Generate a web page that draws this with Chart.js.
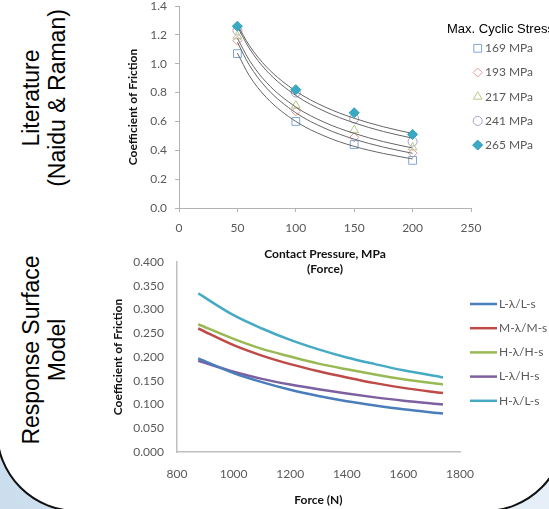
<!DOCTYPE html>
<html lang="en">
<head>
<meta charset="UTF-8">
<title>Coefficient of Friction</title>
<script src="https://cdn.jsdelivr.net/npm/chart.js"></script>
<style>
  html, body { margin: 0; padding: 0; }
  body {
    width: 549px; height: 509px; overflow: hidden; position: relative;
    background: linear-gradient(to right, #cbdeee 0%, #dde9f5 60%, #e6eff8 100%);
    font-family: "Liberation Sans", Arial, sans-serif;
  }
  #frame {
    position: absolute; left: -4px; top: -200px; width: 570px; height: 712px;
    box-sizing: border-box; background: #fff;
    border: 2.5px solid #111; border-radius: 81px;
  }
  canvas { position: absolute; }
  .side { position: absolute; width: 0; height: 0; }
  .side div {
    position: absolute; white-space: nowrap; text-align: center;
    font-size: 23px; line-height: 26px; color: #000;
    transform: translate(-50%, -50%) rotate(-90deg);
  }
</style>
</head>
<body>
<div id="frame"></div>
<div class="side" style="left:44px; top:98px;"><div>Literature<br>(Naidu &amp; Raman)</div></div>
<div class="side" style="left:44px; top:350px;"><div>Response Surface<br>Model</div></div>
<canvas id="litChart" width="500" height="300" style="left:100px; top:-20px;"></canvas>
<canvas id="rsmChart" width="500" height="269" style="left:100px; top:240px;"></canvas>

<script>
// --- top chart: literature data (Naidu & Raman) ---
var pressure = [50, 100, 150, 200];
var stressLabels = ['169 MPa', '193 MPa', '217 MPa', '241 MPa', '265 MPa'];
var cof169 = [1.07, 0.60, 0.44, 0.33];
var cof193 = [1.16, 0.67, 0.49, 0.38];
var cof217 = [1.19, 0.71, 0.54, 0.42];
var cof241 = [1.23, 0.80, 0.62, 0.46];
var cof265 = [1.26, 0.82, 0.66, 0.51];

// trend lines
var trendPressure = [50, 60, 75, 100, 125, 150, 175, 200];
var trend169 = [1.074, 0.92, 0.764, 0.60, 0.497, 0.427, 0.378, 0.34];
var trend193 = [1.149, 0.993, 0.831, 0.66, 0.552, 0.477, 0.422, 0.379];
var trend217 = [1.177, 1.027, 0.869, 0.70, 0.592, 0.517, 0.460, 0.416];
var trend241 = [1.258, 1.109, 0.951, 0.78, 0.669, 0.590, 0.530, 0.484];
var trend265 = [1.27, 1.129, 0.977, 0.81, 0.70, 0.622, 0.563, 0.516];

// --- bottom chart: response surface model ---
var force = [875, 1000, 1100, 1200, 1300, 1400, 1500, 1600, 1740];
var modelLabels = ['L-\u03bb/L-s', 'M-\u03bb/M-s', 'H-\u03bb/H-s', 'L-\u03bb/H-s', 'H-\u03bb/L-s'];
var lowLowS  = [0.197, 0.166, 0.147, 0.131, 0.118, 0.107, 0.098, 0.090, 0.081];
var midMidS  = [0.260, 0.225, 0.203, 0.185, 0.170, 0.157, 0.145, 0.135, 0.124];
var highHighS = [0.269, 0.238, 0.217, 0.201, 0.186, 0.174, 0.163, 0.153, 0.142];
var lowHighS = [0.192, 0.169, 0.154, 0.142, 0.132, 0.123, 0.115, 0.108, 0.100];
var highLowS = [0.334, 0.288, 0.260, 0.236, 0.216, 0.199, 0.185, 0.172, 0.157];

Chart.defaults.font.family = 'Lato';
Chart.defaults.font.size = 12;
Chart.defaults.color = '#595959';

function pts(xs, ys) {
    return xs.map(function (x, i) { return { x: x, y: ys[i] }; });
}

// legend drawn at fixed spot beside the plot
var sideLegend = {
    id: 'sideLegend',
    afterDraw: function (chart, args, opts) {
        var ctx = chart.ctx;
        ctx.save();
        if (opts.title) {
            ctx.font = '13px "Liberation Sans", Arial';
            ctx.fillStyle = '#000';
            ctx.textBaseline = 'alphabetic';
            ctx.textAlign = 'left';
            ctx.fillText(opts.title, opts.titleX, opts.titleY);
        }
        ctx.font = '12px Lato';
        ctx.textBaseline = 'middle';
        var row = 0;
        chart.data.datasets.forEach(function (ds) {
            if (!ds.label) return;
            var y = opts.y + row * opts.gap;
            ctx.strokeStyle = ds.borderColor;
            ctx.fillStyle = ds.backgroundColor;
            if (opts.kind === 'marker') {
                ctx.lineWidth = 1;
                Chart.helpers.drawPoint(ctx, {
                    pointStyle: ds.pointStyle, radius: ds.pointRadius, rotation: 0, borderWidth: 1
                }, opts.x, y);
            } else {
                ctx.lineWidth = ds.borderWidth;
                ctx.beginPath();
                ctx.moveTo(opts.x, y);
                ctx.lineTo(opts.x + opts.lineLen, y);
                ctx.stroke();
            }
            ctx.fillStyle = '#595959';
            ctx.fillText(ds.label, opts.textX, y);
            row++;
        });
        ctx.restore();
    }
};

// top chart
var markerStyles = [
    { style: 'rect', r: 5.5, border: '#7ea6d8', fill: 'rgba(0,0,0,0)' },
    { style: 'rectRot', r: 4.5, border: '#e39a98', fill: 'rgba(0,0,0,0)' },
    { style: 'triangle', r: 5, border: '#b3cb86', fill: 'rgba(0,0,0,0)' },
    { style: 'circle', r: 4.5, border: '#ac9bc5', fill: 'rgba(0,0,0,0)' },
    { style: 'rectRot', r: 5, border: '#2f9fbb', fill: '#3aaac4' }
];
var cofSeries = [cof169, cof193, cof217, cof241, cof265];
var trendSeries = [trend169, trend193, trend217, trend241, trend265];

var litSets = cofSeries.map(function (s, i) {
    var m = markerStyles[i];
    return {
        label: stressLabels[i],
        data: pts(pressure, s),
        showLine: false,
        pointStyle: m.style,
        pointRadius: m.r,
        pointBorderWidth: 1,
        borderColor: m.border,
        backgroundColor: m.fill,
        order: i === 4 ? 0 : 2   // filled diamonds on top
    };
});
trendSeries.forEach(function (t) {
    litSets.push({
        data: pts(trendPressure, t),
        borderColor: '#666666',
        borderWidth: 1,
        pointRadius: 0,
        cubicInterpolationMode: 'monotone',
        order: 1
    });
});

new Chart(document.getElementById('litChart').getContext('2d'), {
    type: 'line',
    data: { datasets: litSets },
    options: {
        responsive: false,
        animation: false,
        layout: { padding: { left: 20, top: 26, right: 129, bottom: 0 } },
        plugins: {
            legend: { display: false },
            tooltip: { enabled: false },
            sideLegend: {
                kind: 'marker', x: 377.7, y: 68.3, gap: 24.2, textX: 385,
                title: 'Max. Cyclic Stress', titleX: 347, titleY: 53
            }
        },
        scales: {
            x: {
                type: 'linear', min: 0, max: 250,
                ticks: { stepSize: 50, padding: 9, callback: function (v) { return String(v); } },
                grid: { drawOnChartArea: false, tickLength: 4, color: '#b3b3b3' },
                border: { color: '#b3b3b3' },
                title: {
                    display: true, text: ['Contact Pressure, MPa', '(Force)'],
                    color: '#111', font: { weight: 'bold', size: 12, lineHeight: 1.25 },
                    padding: { top: 0, bottom: 3.5 }
                },
                afterFit: function (s) { s.height = 72; }
            },
            y: {
                min: 0, max: 1.4,
                ticks: { stepSize: 0.2, padding: 8, callback: function (v) { return v.toFixed(1); } },
                grid: { drawOnChartArea: false, tickLength: 4, color: '#b3b3b3' },
                border: { color: '#b3b3b3' },
                title: {
                    display: true, text: 'Coefficient of Friction',
                    color: '#111', font: { weight: 'bold', size: 12 },
                    padding: { top: 6, bottom: 0 }
                },
                afterFit: function (s) { s.width = 59; }
            }
        }
    },
    plugins: [sideLegend]
});

// bottom chart
var modelColors = ['#4a7ebb', '#be4b48', '#98b954', '#7d60a0', '#46aac5'];
var modelSeries = [lowLowS, midMidS, highHighS, lowHighS, highLowS];

new Chart(document.getElementById('rsmChart').getContext('2d'), {
    type: 'line',
    data: {
        datasets: modelSeries.map(function (s, i) {
            return {
                label: modelLabels[i],
                data: pts(force, s),
                borderColor: modelColors[i],
                backgroundColor: modelColors[i],
                borderWidth: 2.5,
                pointRadius: 0,
                cubicInterpolationMode: 'monotone'
            };
        })
    },
    options: {
        responsive: false,
        animation: false,
        layout: { padding: { left: 5, top: 22, right: 140, bottom: 0 } },
        plugins: {
            legend: { display: false },
            tooltip: { enabled: false },
            sideLegend: { kind: 'line', x: 370, y: 64, gap: 24.2, lineLen: 27, textX: 399 }
        },
        scales: {
            x: {
                type: 'linear', min: 800, max: 1800,
                ticks: { stepSize: 200, padding: 15, callback: function (v) { return String(v); } },
                grid: { display: false, drawTicks: false },
                border: { color: '#bfbfbf', width: 1.5 },
                title: {
                    display: true, text: 'Force (N)',
                    color: '#111', font: { weight: 'bold', size: 12 },
                    padding: { top: 0, bottom: 2 }
                },
                afterFit: function (s) { s.height = 57; }
            },
            y: {
                min: 0, max: 0.4,
                ticks: { stepSize: 0.05, padding: 13, callback: function (v) { return v.toFixed(3); } },
                grid: { display: false, drawTicks: false },
                border: { color: '#bfbfbf', width: 1.5 },
                title: {
                    display: true, text: 'Coefficient of Friction',
                    color: '#111', font: { weight: 'bold', size: 12 },
                    padding: { top: 6, bottom: 0 }
                },
                afterFit: function (s) { s.width = 72; }
            }
        }
    },
    plugins: [sideLegend]
});
</script>
</body>
</html>
